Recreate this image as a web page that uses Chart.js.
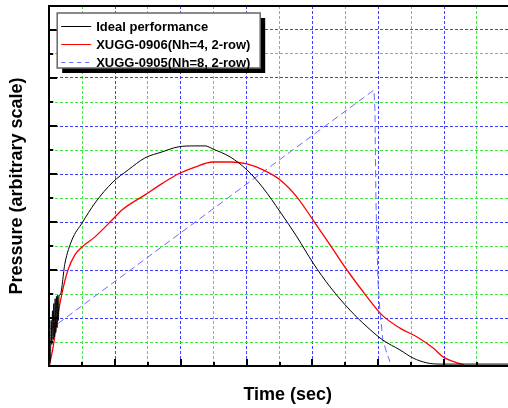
<!DOCTYPE html>
<html>
<head>
<meta charset="utf-8">
<script src="https://cdn.jsdelivr.net/npm/chart.js@4/dist/chart.umd.min.js"></script>
<style>
  html, body { margin: 0; padding: 0; background: #fff; overflow: hidden; }
  #wrap { width: 508px; height: 408px; overflow: hidden; }
  canvas { display: block; }
</style>
</head>
<body>
<div id="wrap"><canvas id="pressureChart" width="540" height="408"></canvas></div>
<script>
const seriesNames = ["Ideal performance", "XUGG-0906(Nh=4, 2-row)", "XUGG-0905(Nh=8, 2-row)"];

// ideal curve (noisy at ignition)
const idealTime = [0, 0.04, 0.06, 0.08, 0.10, 0.12, 0.14, 0.16, 0.18, 0.20, 0.22, 0.24, 0.26, 0.28, 0.30, 0.33, 0.48, 0.69, 1.0, 1.39, 1.94, 2.40, 2.91, 3.43, 3.92, 4.43, 4.74, 4.98, 5.50, 6.01, 6.50, 7.02, 7.53, 8.02, 8.54, 9.14, 9.66, 10.14, 10.66, 11.06, 11.48, 11.88, 14.5];
const idealPressure = [0, 0.4, 1.9, 0.9, 2.3, 1.1, 2.6, 1.2, 2.8, 1.4, 2.9, 1.6, 2.95, 1.9, 2.95, 2.96, 4.29, 5.25, 5.96, 6.79, 7.67, 8.17, 8.67, 8.92, 9.13, 9.17, 9.17, 9.04, 8.71, 8.17, 7.42, 6.42, 5.38, 4.29, 3.29, 2.33, 1.63, 1.08, 0.67, 0.33, 0.13, 0.08, 0.08];

// XUGG-0906
const nh4Time = [0, 0.12, 0.24, 0.39, 0.57, 0.78, 1.0, 1.39, 1.91, 2.21, 2.91, 3.43, 3.92, 4.43, 4.98, 5.50, 6.01, 6.50, 7.02, 7.53, 8.02, 8.54, 9.05, 9.66, 10.11, 10.66, 11.18, 11.67, 11.97, 12.40, 12.6];
const nh4Pressure = [0, 0.79, 1.92, 3.04, 4.0, 4.63, 4.96, 5.38, 6.08, 6.5, 7.13, 7.6, 8.0, 8.29, 8.5, 8.5, 8.42, 8.17, 7.75, 7.04, 6.08, 5.04, 4.0, 2.88, 2.13, 1.58, 1.21, 0.75, 0.38, 0.13, 0.05];

// XUGG-0905
const nh8Time = [0, 9.87, 9.90, 9.93, 9.99, 10.05, 10.14, 10.26, 10.36];
const nh8Pressure = [1.5, 11.5, 10.67, 6.92, 3.58, 2.33, 1.08, 0.54, 0.17];

const timeMax = 14.5;
const pressureMax = 15;

const FONT = "'Liberation Sans', Arial, sans-serif";
const majorGrid = "#4040ff";
const minorGrid = "#44e444";

const toPoints = (xs, ys) => xs.map((x, i) => ({ x: x, y: ys[i] }));
const isMajor = (v) => Number.isInteger(v) && v % 2 === 0;

// inward tick marks and the top frame line
const frameTicks = {
  id: "frameTicks",
  afterDatasetsDraw(chart) {
    const { ctx, chartArea: a, scales: { x, y } } = chart;
    ctx.save();
    ctx.strokeStyle = "#000";
    ctx.lineWidth = 2;
    ctx.beginPath();
    x.ticks.forEach((t) => {
      if (!Number.isInteger(t.value) || t.value === 0) return;
      const px = Math.round(x.getPixelForValue(t.value));
      ctx.moveTo(px, a.bottom);
      ctx.lineTo(px, a.bottom - (isMajor(t.value) ? 7 : 4));
    });
    y.ticks.forEach((t) => {
      if (!Number.isInteger(t.value) || t.value === 0) return;
      const py = Math.round(y.getPixelForValue(t.value));
      ctx.moveTo(a.left, py);
      ctx.lineTo(a.left + (isMajor(t.value) ? 8 : 4), py);
    });
    ctx.stroke();
    ctx.beginPath();
    ctx.moveTo(a.left - 1, a.top);
    ctx.lineTo(a.right, a.top);
    ctx.stroke();
    ctx.restore();
  }
};

// framed legend with a drop shadow
const boxLegend = {
  id: "boxLegend",
  afterDraw(chart) {
    const { ctx, chartArea: a } = chart;
    const bx = a.left + 8, by = a.top + 7, bw = 203, bh = 55, sh = 5;
    ctx.save();
    ctx.fillStyle = "#000";
    ctx.fillRect(bx + sh, by + sh, bw, bh);
    ctx.fillStyle = "#fff";
    ctx.fillRect(bx, by, bw, bh);
    ctx.strokeStyle = "#666";
    ctx.lineWidth = 1.5;
    ctx.strokeRect(bx, by, bw, bh);
    ctx.font = "bold 13px " + FONT;
    ctx.textBaseline = "middle";
    chart.data.datasets.forEach((ds, i) => {
      const ly = by + 13 + i * 18;
      ctx.strokeStyle = ds.borderColor;
      ctx.lineWidth = 1;
      ctx.setLineDash(ds.borderDash ? [4, 4] : []);
      ctx.beginPath();
      ctx.moveTo(bx + 4, ly + 0.5);
      ctx.lineTo(bx + 34, ly + 0.5);
      ctx.stroke();
      ctx.setLineDash([]);
      ctx.fillStyle = "#000";
      ctx.fillText(ds.label, bx + 39, ly + 1);
    });
    ctx.restore();
  }
};

new Chart(document.getElementById("pressureChart"), {
  type: "line",
  data: {
    datasets: [
      {
        label: seriesNames[0],
        data: toPoints(idealTime, idealPressure),
        borderColor: "#000000",
        borderWidth: 1,
        cubicInterpolationMode: "monotone",
        pointRadius: 0
      },
      {
        label: seriesNames[1],
        data: toPoints(nh4Time, nh4Pressure),
        borderColor: "#ff0000",
        borderWidth: 1.3,
        cubicInterpolationMode: "monotone",
        pointRadius: 0
      },
      {
        label: seriesNames[2],
        data: toPoints(nh8Time, nh8Pressure),
        borderColor: "#6b6bff",
        borderWidth: 1,
        borderDash: [7, 4],
        tension: 0,
        pointRadius: 0
      }
    ]
  },
  options: {
    responsive: false,
    animation: false,
    layout: { padding: { top: 6, right: 13.7, bottom: 0, left: 0 } },
    plugins: { legend: { display: false }, tooltip: { enabled: false } },
    scales: {
      x: {
        type: "linear",
        min: 0,
        max: timeMax,
        ticks: { display: false, stepSize: 1 },
        grid: {
          color: (c) => (c.tick && isMajor(c.tick.value) ? majorGrid : minorGrid),
          lineWidth: 1,
          drawTicks: false
        },
        border: { color: "#000", width: 2, dash: [3, 2] },
        title: {
          display: true,
          text: "Time (sec)",
          color: "#000",
          font: { family: FONT, size: 18, weight: "bold", lineHeight: 1.2 },
          padding: { top: 18.7, bottom: 1.7 }
        }
      },
      y: {
        type: "linear",
        min: 0,
        max: pressureMax,
        ticks: { display: false, stepSize: 1 },
        grid: {
          color: (c) => (c.tick && isMajor(c.tick.value) ? majorGrid : minorGrid),
          lineWidth: 1,
          drawTicks: false
        },
        border: { color: "#000", width: 2, dash: [3, 2] },
        title: {
          display: true,
          text: "Pressure (arbitrary scale)",
          color: "#000",
          font: { family: FONT, size: 18, weight: "bold", lineHeight: 1.2 },
          padding: { top: 6, bottom: 21.6 }
        }
      }
    }
  },
  plugins: [frameTicks, boxLegend]
});
</script>
</body>
</html>
